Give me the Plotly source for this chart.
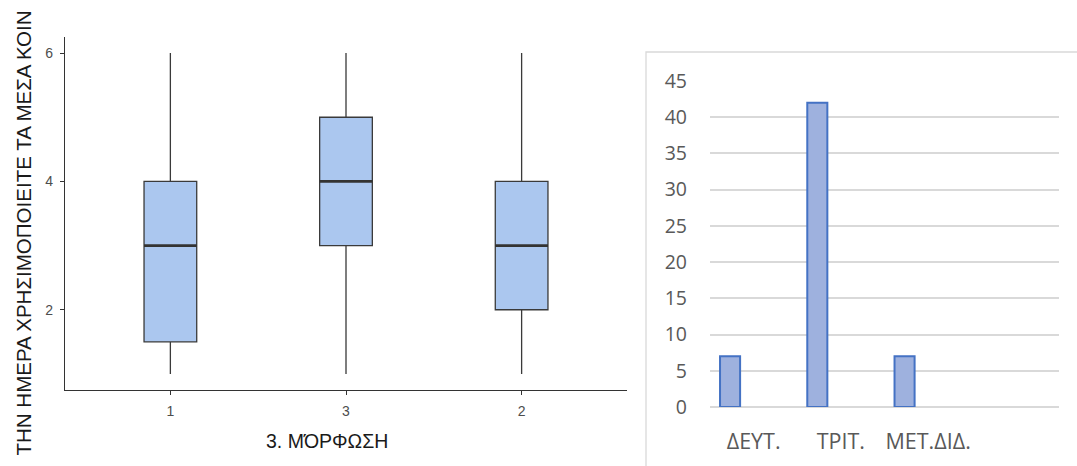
import plotly.graph_objects as go

# ---- data ----
box_cats = ["1", "3", "2"]
box_low = [1, 1, 1]
box_q1 = [1.5, 3, 2]
box_med = [3, 4, 3]
box_q3 = [4, 5, 4]
box_high = [6, 6, 6]

bar_cats = ["ΔΕΥΤ.", "ΤΡΙΤ.", "ΜΕΤ.ΔΙΔ.", ""]
bar_vals = [7, 42, 7]

y_title = "ΤΗΝ ΗΜΕΡΑ ΧΡΗΣΙΜΟΠΟΙΕΙΤΕ ΤΑ ΜΕΣΑ ΚΟΙΝ"
x_title = "3. ΜΌΡΦΩΣΗ"

W, H = 1077, 466
def px_x(p):
    return p / W
def px_y(p):
    return (H - p) / H

fig = go.Figure()

bx = list(range(len(box_cats)))
BOX_W = 0.3
fig.add_trace(go.Box(
    x=bx, q1=box_q1, median=box_med, q3=box_q3,
    lowerfence=box_low, upperfence=box_high,
    width=BOX_W, whiskerwidth=0,
    fillcolor="#abc7ef",
    line=dict(color="#3a3a3a", width=1.3),
    xaxis="x", yaxis="y", showlegend=False, hoverinfo="skip",
))
# thicker median lines drawn from the data
for xi, m in zip(bx, box_med):
    fig.add_trace(go.Scatter(
        x=[xi - BOX_W / 2, xi + BOX_W / 2], y=[m, m], mode="lines",
        line=dict(color="#333333", width=2.6),
        xaxis="x", yaxis="y", showlegend=False, hoverinfo="skip",
    ))

fig.add_trace(go.Bar(
    x=list(range(len(bar_vals))), y=bar_vals,
    width=0.23, offset=-0.385,
    marker=dict(color="#9eb1de", line=dict(color="#4472c4", width=2)),
    xaxis="x2", yaxis="y2", showlegend=False, hoverinfo="skip",
))

fig.update_layout(
    width=W, height=H,
    margin=dict(l=0, r=0, t=0, b=0),
    paper_bgcolor="white", plot_bgcolor="white",
    xaxis=dict(
        domain=[px_x(65), px_x(627)], range=[-0.6, 2.6],
        tickvals=bx, ticktext=box_cats, automargin=False,
        showline=True, linecolor="#333333", linewidth=1.2,
        ticks="outside", ticklen=4, tickcolor="#333333", tickwidth=1,
        showgrid=False, zeroline=False,
        tickfont=dict(family="Liberation Sans, Arial", size=14, color="#4d4d4d"),
        ticklabelstandoff=4,
        anchor="y",
    ),
    yaxis=dict(
        domain=[px_y(390), px_y(37)], range=[0.75, 6.25],
        tickvals=[2, 4, 6], automargin=False,
        showline=True, linecolor="#333333", linewidth=1.2,
        ticks="outside", ticklen=4, tickcolor="#333333", tickwidth=1,
        showgrid=False, zeroline=False,
        tickfont=dict(family="Liberation Sans, Arial", size=14, color="#4d4d4d"),
        ticklabelstandoff=4,
        anchor="x",
    ),
    xaxis2=dict(
        domain=[px_x(710), px_x(1059)], range=[-0.5, 3.5],
        tickvals=list(range(len(bar_cats))), ticktext=bar_cats, automargin=False,
        showline=False, showgrid=False, zeroline=False, ticks="",
        tickfont=dict(family="Open Sans", size=21.5, color="#595959"),
        ticklabelstandoff=19,
        anchor="y2",
    ),
    yaxis2=dict(
        domain=[px_y(407), px_y(81)], range=[0, 45], automargin=False,
        dtick=5, showgrid=True, gridcolor="#d9d9d9", gridwidth=1.5,
        zeroline=True, zerolinecolor="#d9d9d9", zerolinewidth=1.5,
        showline=False, ticks="",
        tickfont=dict(family="Open Sans", size=19.5, color="#595959"),
        ticklabelstandoff=22,
        anchor="x2",
    ),
    shapes=[dict(
        type="rect", xref="paper", yref="paper",
        x0=px_x(646), x1=1.02, y0=-0.02, y1=px_y(52),
        line=dict(color="#d9d9d9", width=1.3), fillcolor="rgba(0,0,0,0)",
        layer="below",
    )],
    annotations=[
        dict(text=y_title, textangle=-90, xref="paper", yref="paper",
             x=px_x(22.5), y=0.5, xanchor="center", yanchor="middle",
             showarrow=False,
             font=dict(family="Liberation Sans, Arial", size=20.5, color="#1a1a1a")),
        dict(text=x_title, xref="paper", yref="paper",
             x=px_x(327), y=px_y(441), xanchor="center", yanchor="middle",
             showarrow=False,
             font=dict(family="Liberation Sans, Arial", size=19.5, color="#1a1a1a")),
    ],
)

fig.write_html(
    "out.html",
    config={"displayModeBar": False},
    post_script="document.body.style.margin='0';document.body.style.overflow='hidden';",
)
